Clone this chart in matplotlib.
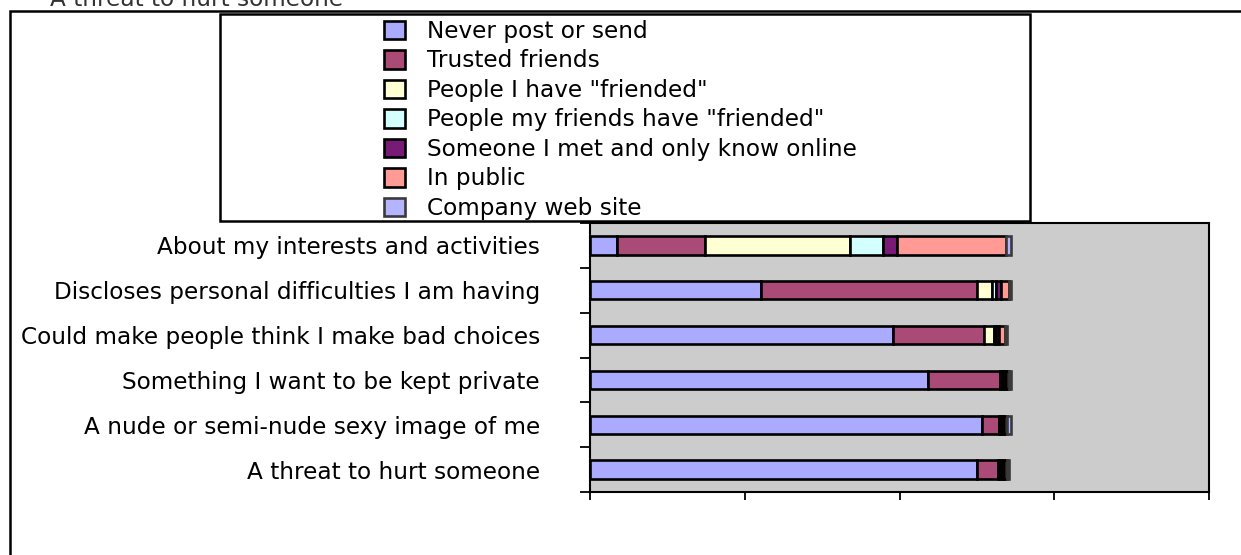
import matplotlib
matplotlib.use("Agg")
import matplotlib.pyplot as plt
from matplotlib.patches import Rectangle
import numpy as np

plt.rcParams['font.family'] = ['DejaVu Sans']

title = "A threat to hurt someone"

categories = [
    "About my interests and activities",
    "Discloses personal difficulties I am having",
    "Could make people think I make bad choices",
    "Something I want to be kept private",
    "A nude or semi-nude sexy image of me",
    "A threat to hurt someone",
]

series_names = [
    "Never post or send",
    "Trusted friends",
    'People I have "friended"',
    'People my friends have "friended"',
    "Someone I met and only know online",
    "In public",
    "Company web site",
]

# percent of respondents per audience, one list per series (rows follow `categories`)
never_post   = [6.5, 40.7, 71.9, 80.3, 93.2, 91.8]
trusted      = [20.9, 51.1, 21.6, 17.1, 3.9, 5.0]
friended     = [34.3, 3.7, 2.5, 0.5, 0.4, 0.5]
friends_of   = [7.8, 1.0, 0.4, 0.5, 0.4, 0.5]
online_only  = [3.4, 1.0, 0.7, 0.5, 0.4, 0.5]
in_public    = [25.9, 2.0, 1.5, 0.5, 0.8, 0.8]
company_site = [1.2, 0.5, 0.5, 0.6, 0.9, 0.5]

series_values = [never_post, trusted, friended, friends_of,
                 online_only, in_public, company_site]

face_colors = ["#AAAAFF", "#A94A77", "#FFFFD4", "#D4FFFF",
               "#771B77", "#FF9A94", "#B4B4FF"]
edge_colors = ["#000000"] * 6 + ["#3A3A3A"]

FS = 16.7

W, H = 1241, 555
fig = plt.figure(figsize=(W / 100, H / 100), dpi=100)

# plot area in pixel bounds
px_l, px_r, px_t, px_b = 590, 1209, 223, 492
ax = fig.add_axes([px_l / W, 1 - px_b / H, (px_r - px_l) / W, (px_b - px_t) / H])
ax.set_facecolor("#CCCCCC")

y = np.arange(len(categories))
left = np.zeros(len(categories))
handles = []
for vals, fc, ec, name in zip(series_values, face_colors, edge_colors, series_names):
    vals = np.asarray(vals, dtype=float)
    bc = ax.barh(y, vals, left=left, height=0.41, color=fc,
                 edgecolor=ec, linewidth=1.9, label=name, zorder=3)
    handles.append(bc)
    left = left + vals

xmax = 147.0
ax.set_xlim(0, xmax)
ax.set_ylim(len(categories) - 0.5, -0.5)

ax.set_xticks(np.linspace(0, xmax, 5))
ax.set_xticklabels([])
ax.tick_params(axis="x", direction="out", length=6, width=1.3, color="black")

ax.set_yticks(y)
ax.set_yticklabels(categories, fontsize=FS)
ax.set_yticks(np.arange(-0.5, len(categories)), minor=True)
ax.tick_params(axis="y", which="major", length=0, pad=36)
ax.tick_params(axis="y", which="minor", direction="out", length=7, width=1.3, color="black")

for sp in ax.spines.values():
    sp.set_color("black")
    sp.set_linewidth(1.5)

# outer chart frame, running off the right and bottom edges
fig.patches.append(Rectangle((9.5 / W, -0.05), 1.1, 1 - 10.5 / H + 0.05,
                             transform=fig.transFigure, fill=False,
                             edgecolor="black", linewidth=1.8, zorder=0))

# legend frame
lg_l, lg_r, lg_t, lg_b = 220, 1030, 14, 221
fig.patches.append(Rectangle((lg_l / W, 1 - lg_b / H), (lg_r - lg_l) / W, (lg_b - lg_t) / H,
                             transform=fig.transFigure, facecolor="white",
                             edgecolor="black", linewidth=1.8, zorder=1))

leg = fig.legend(handles, series_names, loc="upper left",
                 bbox_to_anchor=(384 / W, 1 - 20 / H), frameon=False,
                 fontsize=FS, borderpad=0, borderaxespad=0,
                 handlelength=0.92, handleheight=0.85, handletextpad=0.95,
                 labelspacing=0.28)
leg.set_zorder(5)

# chart title, running off the top edge
fig.text(50 / W, 1 - 6 / H, title, fontsize=FS, color="#333333",
         ha="left", va="baseline")

fig.savefig("out.png", dpi=100)
